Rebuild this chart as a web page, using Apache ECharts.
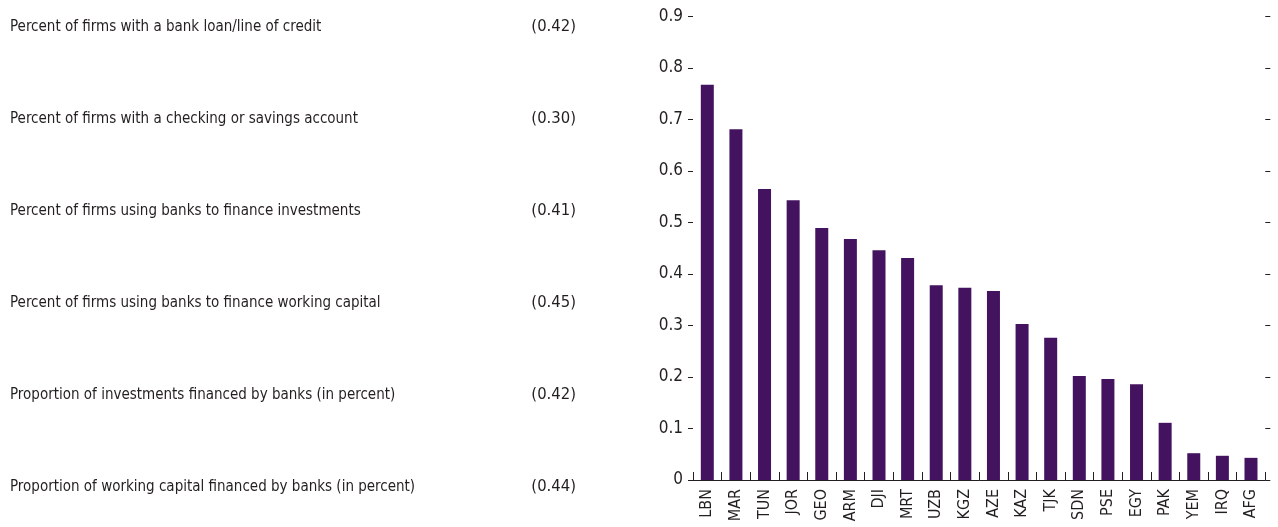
<!DOCTYPE html>
<html>
<head>
<meta charset="utf-8">
<script src="https://cdn.jsdelivr.net/npm/echarts@6/dist/echarts.min.js"></script>
<style>
html,body{margin:0;padding:0;background:#fff;}
#chart{width:1278px;height:527px;}
</style>
</head>
<body>
<div id="chart"></div>
<script>
var countries = ["LBN","MAR","TUN","JOR","GEO","ARM","DJI","MRT","UZB","KGZ","AZE","KAZ","TJK","SDN","PSE","EGY","PAK","YEM","IRQ","AFG"];
var values = [0.767,0.681,0.565,0.543,0.489,0.468,0.446,0.431,0.378,0.373,0.367,0.303,0.276,0.202,0.196,0.186,0.111,0.052,0.047,0.043];
var indicatorLabels = [
  "Percent of firms with a bank loan/line of credit",
  "Percent of firms with a checking or savings account",
  "Percent of firms using banks to finance investments",
  "Percent of firms using banks to finance working capital",
  "Proportion of investments financed by banks (in percent)",
  "Proportion of working capital financed by banks (in percent)"
];
var indicatorValues = ["(0.42)","(0.30)","(0.41)","(0.45)","(0.42)","(0.44)"];
var yTicks = {min:0, max:0.9, interval:0.1};

var FONT = "'Liberation Sans Narrow', 'DejaVu Sans Condensed', 'Roboto Condensed', sans-serif";
var TXT = "#231f20";
var BAR = "#44135f";

var chart = echarts.init(document.getElementById('chart'), null, {renderer:'canvas'});
chart.setOption({
  animation:false,
  backgroundColor:'#ffffff',
  textStyle:{fontFamily:FONT, color:TXT},
  grid:[
    {left:693, right:12.7, top:16.3, bottom:47, containLabel:false},
    {left:10, right:702, top:27, bottom:40, containLabel:false}
  ],
  xAxis:[
    {
      type:'category', gridIndex:0, data:countries, boundaryGap:true,
      axisLine:{show:true, lineStyle:{color:TXT, width:1}},
      axisTick:{show:true, inside:true, length:8, lineStyle:{color:TXT}},
      axisLabel:{rotate:90, interval:0, fontSize:16, color:TXT, fontFamily:FONT, margin:9}
    },
    {type:'value', gridIndex:1, show:false, min:0, max:1}
  ],
  yAxis:[
    {
      type:'value', gridIndex:0, position:'left', min:yTicks.min, max:yTicks.max, interval:yTicks.interval,
      axisLine:{show:false}, splitLine:{show:false},
      axisTick:{show:true, length:5, lineStyle:{color:TXT}},
      axisLabel:{fontSize:17, color:TXT, fontFamily:FONT, margin:10}
    },
    {
      type:'value', gridIndex:0, position:'right', min:yTicks.min, max:yTicks.max, interval:yTicks.interval,
      axisLine:{show:false}, splitLine:{show:false},
      axisTick:{show:true, length:5, lineStyle:{color:TXT}},
      axisLabel:{show:false}
    },
    {
      type:'category', gridIndex:1, position:'left', data:indicatorLabels, inverse:true, boundaryGap:false,
      axisLine:{show:false}, axisTick:{show:false}, splitLine:{show:false},
      axisLabel:{align:'left', margin:0, fontSize:15, color:TXT, fontFamily:FONT, interval:0}
    },
    {
      type:'category', gridIndex:1, position:'right', data:indicatorValues, inverse:true, boundaryGap:false,
      axisLine:{show:false}, axisTick:{show:false}, splitLine:{show:false},
      axisLabel:{align:'right', margin:0, fontSize:16.5, color:TXT, fontFamily:FONT, interval:0}
    }
  ],
  series:[
    {
      type:'bar', xAxisIndex:0, yAxisIndex:0, data:values, barWidth:13,
      itemStyle:{color:BAR}
    }
  ]
});
</script>
</body>
</html>
